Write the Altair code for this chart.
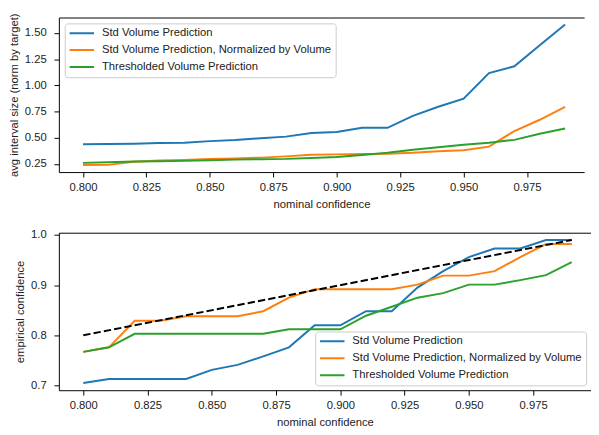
import altair as alt
import pandas as pd

# ---------------- data ----------------
conf = [0.80, 0.81, 0.82, 0.83, 0.84, 0.85, 0.86, 0.87, 0.88, 0.89,
        0.90, 0.91, 0.92, 0.93, 0.94, 0.95, 0.96, 0.97, 0.98, 0.99]

series_names = ["Std Volume Prediction",
                "Std Volume Prediction, Normalized by Volume",
                "Thresholded Volume Prediction"]
series_colors = ["#1f77b4", "#ff7f0e", "#2ca02c"]

# top panel: avg interval size (norm by target)
size_std = [0.436, 0.440, 0.442, 0.449, 0.452, 0.467, 0.477, 0.495, 0.510, 0.544,
            0.554, 0.594, 0.594, 0.709, 0.795, 0.872, 1.117, 1.182, 1.383, 1.581]
size_norm = [0.238, 0.240, 0.269, 0.281, 0.287, 0.296, 0.302, 0.309, 0.321, 0.337,
             0.340, 0.343, 0.346, 0.355, 0.371, 0.380, 0.414, 0.563, 0.671, 0.795]
size_thr = [0.259, 0.265, 0.272, 0.275, 0.278, 0.284, 0.290, 0.294, 0.297, 0.306,
            0.315, 0.334, 0.356, 0.384, 0.408, 0.433, 0.452, 0.479, 0.538, 0.588]

# bottom panel: empirical confidence
emp_std = [0.705, 0.713, 0.713, 0.713, 0.713, 0.731, 0.741, 0.758, 0.776, 0.820,
           0.820, 0.848, 0.848, 0.895, 0.928, 0.956, 0.973, 0.973, 0.990, 0.990]
emp_norm = [0.767, 0.776, 0.829, 0.829, 0.838, 0.838, 0.838, 0.848, 0.875, 0.892,
            0.892, 0.892, 0.892, 0.901, 0.919, 0.919, 0.928, 0.956, 0.982, 0.982]
emp_thr = [0.767, 0.776, 0.803, 0.803, 0.803, 0.803, 0.803, 0.803, 0.812, 0.812,
           0.812, 0.839, 0.857, 0.875, 0.884, 0.901, 0.901, 0.910, 0.920, 0.946]

# ideal calibration line (y = x)
diag = [0.80, 0.99]

x_ticks = [0.800, 0.825, 0.850, 0.875, 0.900, 0.925, 0.950, 0.975]
top_y_ticks = [0.25, 0.50, 0.75, 1.00, 1.25, 1.50]
bot_y_ticks = [0.7, 0.8, 0.9, 1.0]


def long_df(a, b, c):
    rows = []
    for name, vals in zip(series_names, (a, b, c)):
        for x, y in zip(conf, vals):
            rows.append({"conf": x, "value": y, "series": name})
    return pd.DataFrame(rows)


top_df = long_df(size_std, size_norm, size_thr)
bot_df = long_df(emp_std, emp_norm, emp_thr)
diag_df = pd.DataFrame({"conf": diag, "value": diag})

FONT = "Liberation Sans"
TXT = "#222222"
x_scale = alt.Scale(domain=[0.7905, 0.9975], nice=False, zero=False)
color_scale = alt.Scale(domain=series_names, range=series_colors)


def make_legend(orient, offset):
    return alt.Legend(
        title=None, orient=orient, offset=offset,
        symbolType="stroke", symbolSize=625, symbolStrokeWidth=2,
        clipHeight=12,
        labelFont=FONT, labelFontSize=11.5, labelColor=TXT, labelOffset=7,
        labelLimit=500, padding=4, rowPadding=5.3,
        fillColor="rgba(255,255,255,0.8)", strokeColor="#cccccc",
        cornerRadius=3,
    )


def panel(df, y_domain, y_ticks, y_fmt, y_title, legend_orient, legend_offset,
          width, height, diag_layer=False):
    x_enc = alt.X("conf:Q", scale=x_scale,
                  axis=alt.Axis(values=x_ticks, format=".3f", title="nominal confidence",
                                tickSize=5, labelPadding=5, titlePadding=6))
    y_scale = alt.Scale(domain=y_domain, nice=False, zero=False)
    y_enc = alt.Y("value:Q", scale=y_scale,
                  axis=alt.Axis(values=y_ticks, format=y_fmt, title=y_title,
                                tickSize=5, labelPadding=8, titlePadding=5))
    lines = alt.Chart(df).mark_line(strokeWidth=2, clip=True).encode(
        x=x_enc, y=y_enc,
        color=alt.Color("series:N", scale=color_scale, sort=series_names,
                        legend=make_legend(legend_orient, legend_offset)),
    )
    spine = alt.Chart(df).mark_line(opacity=0).encode(
        x=alt.X("conf:Q", scale=x_scale,
                axis=alt.Axis(orient="top", labels=False, ticks=False, title=None,
                              domain=True, grid=False)),
        y=alt.Y("value:Q", scale=y_scale, axis=None),
    )
    layers = [lines]
    if diag_layer:
        layers.append(
            alt.Chart(diag_df).mark_line(color="black", strokeWidth=2,
                                         strokeDash=[7.5, 3.2]).encode(
                x=alt.X("conf:Q", scale=x_scale, axis=None),
                y=alt.Y("value:Q", scale=y_scale, axis=None),
            )
        )
    layers.append(spine)
    return alt.layer(*layers).resolve_axis(
        x="independent", y="independent"
    ).properties(width=width, height=height)


top = panel(top_df, [0.171, 1.648], top_y_ticks, ".2f",
            "avg interval size (norm by target)", "top-left", 6, 537, 158)
bottom = panel(bot_df, [0.6905, 1.0045], bot_y_ticks, ".1f",
               "empirical confidence", "bottom-right", 5, 544, 161, diag_layer=True)

chart = alt.vconcat(top, bottom, spacing=19).resolve_scale(
    color="independent"
).properties(padding=0).configure(font=FONT).configure_view(
    stroke=None
).configure_axis(
    labelFont=FONT, labelFontSize=11.5, labelColor=TXT,
    titleFont=FONT, titleFontSize=11.5, titleFontWeight="normal", titleColor=TXT,
    tickColor="black", domainColor="black", domainWidth=1, tickWidth=1, grid=False,
)

chart.save("out.html", embed_options={"renderer": "svg", "actions": False})
